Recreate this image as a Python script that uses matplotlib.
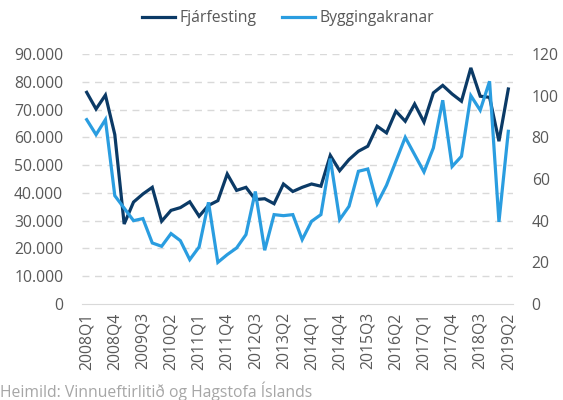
import matplotlib
matplotlib.use('Agg')
import matplotlib.pyplot as plt
from matplotlib.ticker import FuncFormatter, MultipleLocator

plt.rcParams['font.family'] = ['Open Sans', 'DejaVu Sans']

# Quarters 2008Q1 .. 2019Q2
quarters = [f'{y}Q{q}' for y in range(2008, 2020) for q in range(1, 5)][:46]

# Fjárfesting (left axis)
fjarfesting = [
    76200, 70200, 75200, 61000, 28800, 36700, 39600, 42000, 29800, 33700,
    34700, 36800, 31600, 35500, 37200, 46800, 40900, 42000, 37600, 37900,
    36100, 43200, 40500, 42000, 43200, 42400, 53500, 48000, 52000, 55000,
    56800, 64000, 61600, 69400, 65800, 72000, 65500, 76000, 78700, 75600,
    73000, 85000, 74800, 74400, 58600, 77400,
]

# Byggingakranar (right axis)
byggingakranar = [
    88.5, 81.3, 88.5, 52.0, 46.0, 40.0, 41.0, 29.3, 27.7, 33.8,
    30.4, 21.3, 27.4, 48.8, 20.0, 23.7, 26.9, 33.3, 54.0, 25.8,
    42.9, 42.4, 42.9, 30.9, 39.7, 42.9, 69.8, 40.5, 46.9, 63.7,
    64.8, 48.2, 57.0, 68.5, 80.0, 71.7, 63.4, 74.9, 97.8, 66.0,
    70.9, 100.0, 93.0, 106.9, 39.4, 82.9,
]

dark = '#0b3a66'
light = '#2a9de0'
text_col = '#595959'
grid_col = '#d9d9d9'
fs = 11.3

fig = plt.figure(figsize=(5.63, 4.0), dpi=100)
ax = fig.add_axes([82 / 563, 1 - 304 / 400, 431 / 563, 250 / 400])
ax2 = ax.twinx()

x = list(range(len(quarters)))
l1, = ax.plot(x, fjarfesting, color=dark, lw=2.3, label='Fjárfesting',
              solid_joinstyle='miter')
l2, = ax2.plot(x, byggingakranar, color=light, lw=2.3, label='Byggingakranar',
               solid_joinstyle='miter')

ax.set_xlim(-0.5, len(quarters) - 0.5)
ax.set_ylim(0, 90000)
ax2.set_ylim(0, 120)

ax.yaxis.set_major_locator(MultipleLocator(10000))
ax.yaxis.set_major_formatter(FuncFormatter(lambda v, p: f'{int(v):,}'.replace(',', '.')))
ax2.yaxis.set_major_locator(MultipleLocator(20))

ax.set_xticks(x[::3])
ax.set_xticklabels(quarters[::3], rotation=90)

for a in (ax, ax2):
    for s in ('top', 'left', 'right'):
        a.spines[s].set_visible(False)
    a.spines['bottom'].set_visible(False)
    a.tick_params(length=0, labelsize=fs, labelcolor=text_col)
ax.spines['bottom'].set_visible(True)
ax.spines['bottom'].set_color(grid_col)
ax.tick_params(axis='y', pad=13.5)
ax.tick_params(axis='x', pad=6)
ax2.tick_params(axis='y', pad=13.5)

for v in range(10000, 90001, 10000):
    ax.axhline(v, color=grid_col, lw=1, ls=(0, (5, 4)), zorder=0)

fig.legend(handles=[l1, l2], loc='center', bbox_to_anchor=(0.512, 0.955),
           ncol=2, frameon=False, fontsize=fs, handlelength=2.1,
           handletextpad=0.3, columnspacing=1.6, labelcolor=text_col)

fig.text(0.0, 1 - 397 / 400, 'Heimild: Vinnueftirlitið og Hagstofa Íslands',
         fontsize=fs, color='#a6a6a6', va='baseline', ha='left')

fig.savefig('out.png', dpi=100)
